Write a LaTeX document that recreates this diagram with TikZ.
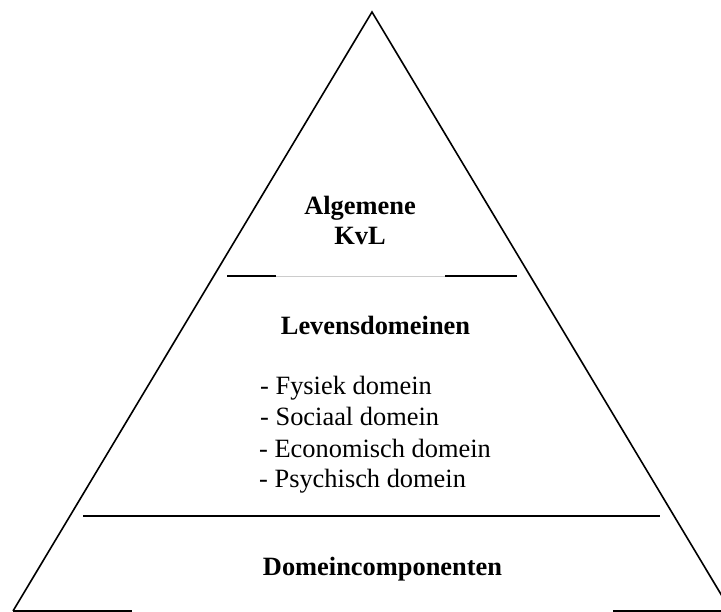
\documentclass[tikz,border=0pt]{standalone}
\usepackage{fontspec}
\setmainfont{Liberation Serif}
\tikzset{
  edge/.style={line width=1.6pt, black},
  faint/.style={line width=0.9pt, black!20},
  title/.style={inner sep=0pt, font=\fontsize{26.4}{30}\selectfont\bfseries},
  item/.style={inner sep=0pt, anchor=base west, font=\fontsize{26.4}{30}\selectfont},
}
\begin{document}
\begin{tikzpicture}[x=1pt,y=-1pt]
\useasboundingbox (0,0) rectangle (721,612);
\clip (0,0) rectangle (721,612);
\coordinate (apex) at (372,12);
\coordinate (bl) at (13,611);
\coordinate (br) at (731,611);
\draw[edge, line join=miter] (bl) -- (apex) -- (br);
% bottom segments
\coordinate (b1) at (132,611);
\coordinate (b2) at (613,611);
\coordinate (b3) at (725,611);
\draw[edge] (bl) -- (b1);
\draw[edge] (b2) -- (b3);
% upper divider
\coordinate (u1) at (227,276);
\coordinate (u2) at (276,276);
\coordinate (u3) at (445,276);
\coordinate (u4) at (517,276);
\draw[faint] (u2) -- (u3);
\draw[edge] (u1) -- (u2);
\draw[edge] (u3) -- (u4);
% lower divider
\coordinate (l1) at (83,516);
\coordinate (l2) at (660,516);
\draw[edge] (l1) -- (l2);
% texts
\node[title, anchor=base] (alg) at (360,215) {Algemene};
\node[title, anchor=base] (kvl) at (360,245) {KvL};
\node[title, anchor=base] (lev) at (375.5,335) {Levensdomeinen};
\node[item] (i1) at (260,395) {- Fysiek domein};
\node[item] (i2) at (260,426) {- Sociaal domein};
\node[item] (i3) at (259,457) {- Economisch domein};
\node[item] (i4) at (259,488) {- Psychisch domein};
\node[title, anchor=base] (dom) at (382.5,575) {Domeincomponenten};
\end{tikzpicture}
\end{document}
